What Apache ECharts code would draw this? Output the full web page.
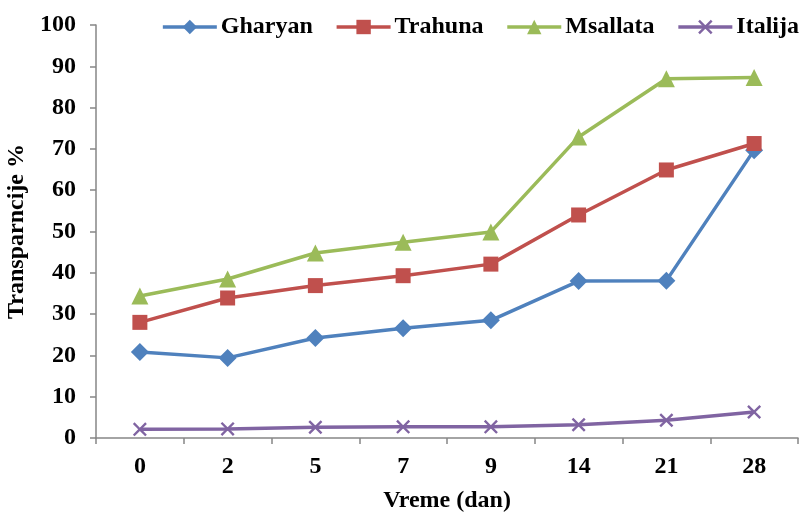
<!DOCTYPE html>
<html>
<head>
<meta charset="utf-8">
<script src="https://cdn.jsdelivr.net/npm/echarts@6/dist/echarts.min.js"></script>
<style>html,body{margin:0;padding:0;background:#fff}#c{width:802px;height:512px}</style>
</head>
<body>
<div id="c"></div>
<script>
const categories = ['0','2','5','7','9','14','21','28'];
const gharyan  = [20.8, 19.4, 24.2, 26.6, 28.5, 38.0, 38.1, 69.7];
const trahuna  = [28.0, 33.9, 36.9, 39.3, 42.1, 54.0, 64.9, 71.3];
const msallata = [34.4, 38.5, 44.8, 47.4, 49.9, 72.9, 87.0, 87.3];
const italija  = [2.1, 2.2, 2.6, 2.7, 2.7, 3.2, 4.3, 6.3];
const seriesNames = ['Gharyan','Trahuna','Msallata','Italija'];

const font = 'Liberation Serif, Times New Roman, serif';
const xPath = 'path://M0,1.2L1.2,0L5,3.8L8.8,0L10,1.2L6.2,5L10,8.8L8.8,10L5,6.2L1.2,10L0,8.8L3.8,5Z';

function mk(name, data, color, symbol, size) {
  return {
    name, type: 'line', data, symbol, symbolSize: size,
    lineStyle: { color, width: 3.5 },
    itemStyle: { color },
    emphasis: { disabled: true }
  };
}

const chart = echarts.init(document.getElementById('c'));
chart.setOption({
  animation: false,
  backgroundColor: '#fff',
  grid: { left: 96, right: 4, top: 25, bottom: 74, containLabel: false, outerBoundsMode: 'none' },
  legend: {
    top: 10, right: -2,
    itemWidth: 54, itemHeight: 18, itemGap: 22,
    lineStyle: { width: 3.5 },
    textStyle: { fontFamily: font, fontWeight: 'bold', fontSize: 24, color: '#000', padding: [0,0,0,-1] },
    data: seriesNames
  },
  xAxis: {
    type: 'category', data: categories, boundaryGap: true,
    name: 'Vreme (dan)', nameLocation: 'middle', nameGap: 51,
    nameTextStyle: { fontFamily: font, fontWeight: 'bold', fontSize: 24, color: '#000' },
    axisLine: { lineStyle: { color: '#868686', width: 1.5 } },
    axisTick: { show: true, length: 6, lineStyle: { color: '#868686', width: 1.5 } },
    axisLabel: { fontFamily: font, fontWeight: 'bold', fontSize: 24, color: '#000', margin: 17 },
    splitLine: { show: false }
  },
  yAxis: {
    type: 'value', min: 0, max: 100, interval: 10,
    name: 'Transparncije %', nameLocation: 'middle', nameGap: 65,
    nameTextStyle: { fontFamily: font, fontWeight: 'bold', fontSize: 24, color: '#000' },
    axisLine: { show: true, lineStyle: { color: '#868686', width: 1.5 } },
    axisTick: { show: true, length: 6, lineStyle: { color: '#868686', width: 1.5 } },
    axisLabel: { fontFamily: font, fontWeight: 'bold', fontSize: 24, color: '#000', margin: 20 },
    splitLine: { show: false }
  },
  series: [
    mk('Gharyan', gharyan, '#4F81BD', 'diamond', 18),
    mk('Trahuna', trahuna, '#C0504D', 'rect', 15),
    mk('Msallata', msallata, '#9BBB59', 'triangle', 17),
    mk('Italija', italija, '#8064A2', xPath, 14)
  ]
});
</script>
</body>
</html>
